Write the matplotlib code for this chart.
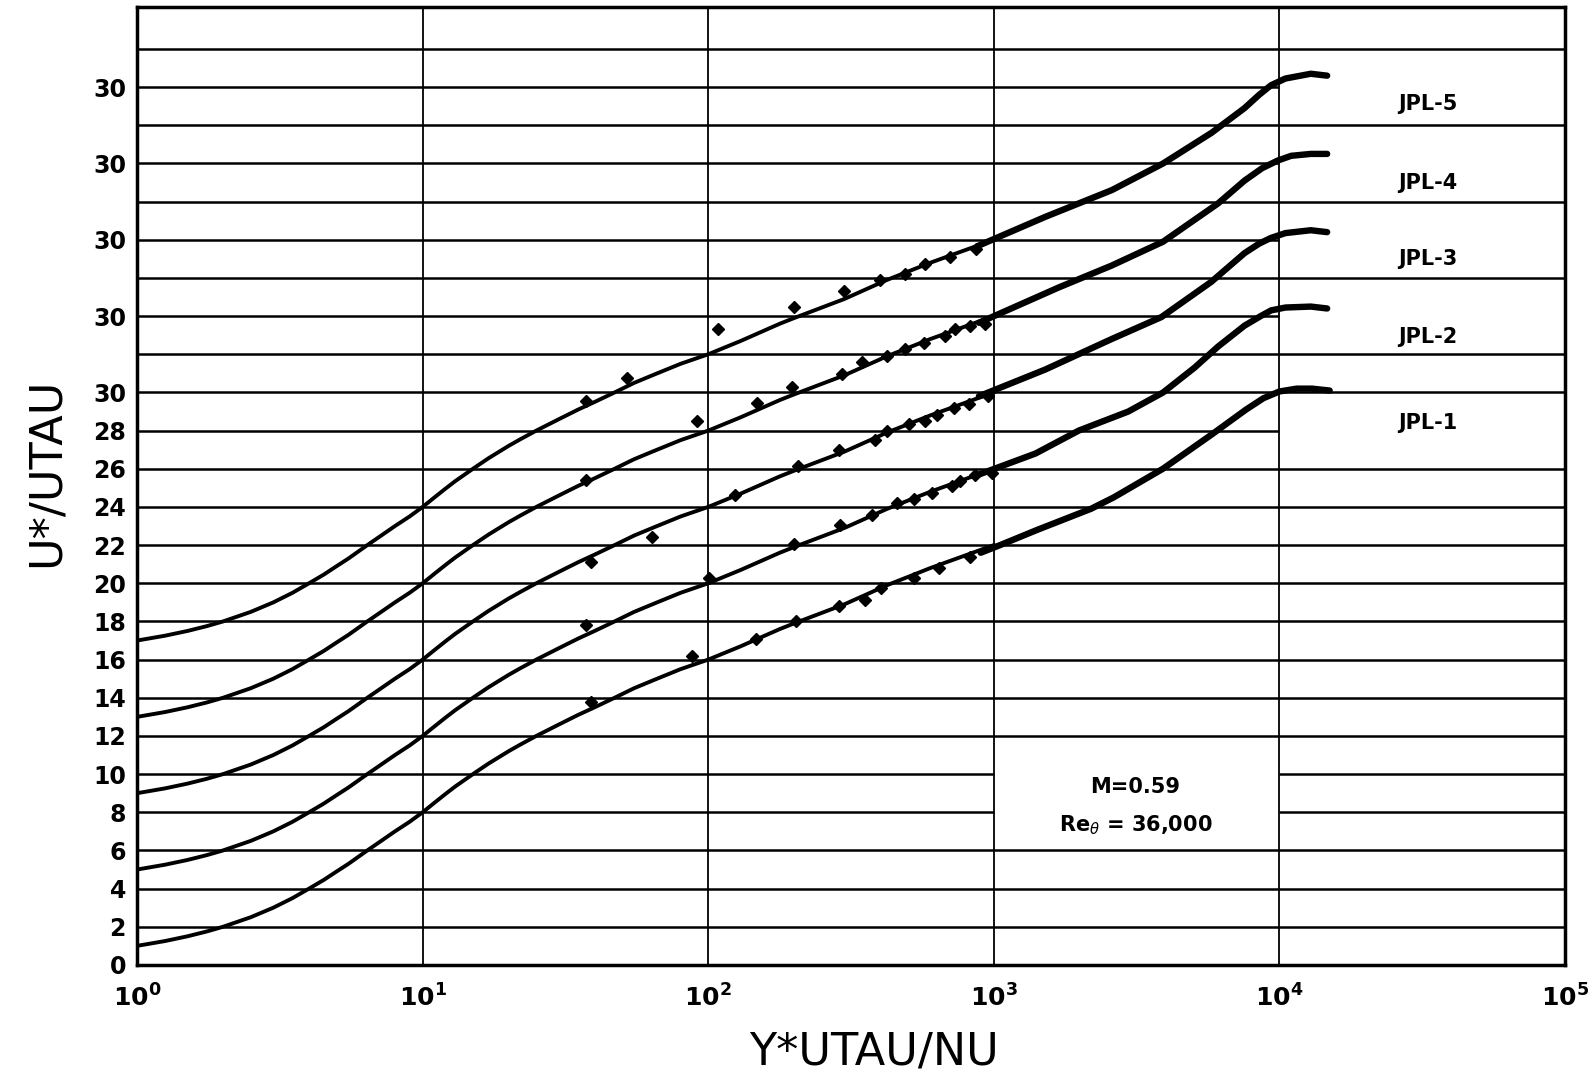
import matplotlib
matplotlib.use('Agg')
import matplotlib.pyplot as plt
from matplotlib.ticker import NullLocator

# curva teorica (sub-camada + lei log) lida para o JPL-1; os outros sao deslocados
TEORIA_YPLUS = [1, 1.25, 1.5, 1.75, 2, 2.5, 3, 3.5, 4, 4.5, 5, 5.5, 6.4, 7, 8, 9, 10, 11, 12, 13,
                15, 17, 20, 22, 25, 30, 35, 40, 47, 55, 65, 80, 100, 130, 178, 200, 300, 423, 600, 1000]
TEORIA_UPLUS = [1.0, 1.25, 1.5, 1.75, 2.0, 2.5, 3.0, 3.5, 4.0, 4.45, 4.9, 5.3, 6.0, 6.4, 7.0, 7.5,
                8.0, 8.5, 8.95, 9.35, 10.0, 10.55, 11.2, 11.55, 12.0, 12.6, 13.1, 13.5, 14.0, 14.5,
                14.95, 15.5, 16.0, 16.7, 17.6, 17.9, 18.9, 19.9, 20.8, 22.0]
DESLOCAMENTOS = [0, 4, 8, 12, 16]

NOMES = ['JPL-1', 'JPL-2', 'JPL-3', 'JPL-4', 'JPL-5']
POS_NOMES = [28.4, 32.9, 37.0, 41.0, 45.1]

# regiao externa (dados densos)
EXT_X = [
    [900, 1052, 1420, 2188, 2630, 3910, 5800, 7640, 8800, 10000, 11500, 13000, 15000],
    [887, 1400, 1983, 2958, 3917, 5047, 6095, 7551, 8600, 9354, 10500, 12882, 14700],
    [887, 1514, 2588, 3864, 5781, 7551, 8500, 9354, 10500, 12882, 14700],
    [887, 1687, 2588, 3917, 6095, 7551, 8700, 9863, 11000, 12882, 14700],
    [887, 1514, 2588, 3917, 5781, 7551, 8500, 9354, 10500, 12882, 14700],
]
EXT_U = [
    [21.6, 22.0, 22.8, 23.9, 24.5, 26.0, 27.8, 29.1, 29.7, 30.05, 30.2, 30.2, 30.1],
    [25.7, 26.8, 28.0, 29.0, 30.0, 31.3, 32.4, 33.5, 34.0, 34.3, 34.45, 34.5, 34.4],
    [29.8, 31.2, 32.8, 33.95, 35.8, 37.3, 37.8, 38.1, 38.35, 38.5, 38.4],
    [33.65, 35.5, 36.65, 37.9, 39.9, 41.1, 41.75, 42.15, 42.4, 42.5, 42.5],
    [37.7, 39.2, 40.6, 42.0, 43.6, 44.9, 45.6, 46.1, 46.45, 46.7, 46.6],
]

# pontos experimentais isolados
PONTOS_X = [
    [39, 88, 147, 203, 286, 354, 404, 525, 643, 824],
    [37.4, 101, 200, 290, 374, 457, 524, 607, 713, 763, 861, 984],
    [39, 63.4, 124, 207, 286, 385, 422, 504, 576, 634, 725, 817, 955],
    [37.4, 91, 148, 196, 293, 345, 422, 490, 568, 677, 733, 828, 933],
    [37.4, 52, 108, 199, 298, 400, 490, 575, 705, 863],
]
PONTOS_U = [
    [13.8, 16.2, 17.1, 18.0, 18.8, 19.1, 19.76, 20.3, 20.8, 21.4],
    [17.8, 20.3, 22.06, 23.04, 23.6, 24.2, 24.4, 24.75, 25.1, 25.36, 25.65, 25.8],
    [21.1, 22.4, 24.63, 26.17, 27.0, 27.5, 28.0, 28.35, 28.5, 28.8, 29.2, 29.4, 29.8],
    [25.4, 28.5, 29.44, 30.3, 30.96, 31.6, 31.9, 32.26, 32.6, 32.96, 33.3, 33.5, 33.6],
    [29.55, 30.75, 33.34, 34.5, 35.3, 35.9, 36.2, 36.75, 37.1, 37.5],
]

YTICKS = [0, 2, 4, 6, 8, 10, 12, 14, 16, 18, 20, 22, 24, 26, 28, 30, 34, 38, 42, 46]
YTICK_LABELS = [str(v) if v <= 28 else '30' for v in YTICKS]
XTICKS = [1, 10, 100, 1000, 10000, 100000]
XTICK_LABELS = [r'$\mathbf{10^{%d}}$' % k for k in range(6)]

NIVEIS_ESQ = list(range(2, 50, 2))
NIVEIS_DIR = list(range(2, 28, 2)) + [30, 32, 36, 40, 44, 48]
NIVEIS_CAIXA = [8, 10]


def desenhar_grade(ax):
    for nivel in NIVEIS_ESQ:
        fim = 1000 if nivel in NIVEIS_CAIXA else 10000
        ax.hlines(nivel, 1, fim, color='black', lw=1.8, zorder=1)
    for nivel in NIVEIS_DIR:
        ax.hlines(nivel, 10000, 100000, color='black', lw=1.8, zorder=1)
    ax.vlines([10, 100, 1000, 10000], 0, 50.2, color='black', lw=1.3, zorder=1)


def main():
    fig = plt.figure(figsize=(15.92, 10.88), dpi=100)
    ax = fig.add_axes([0.0861, 0.1131, 0.8969, 0.8805])
    ax.set_xscale('log')
    ax.set_xlim(1, 1e5)
    ax.set_ylim(0, 50.2)

    desenhar_grade(ax)

    for i, desloc in enumerate(DESLOCAMENTOS):
        ax.plot(TEORIA_YPLUS, [u + desloc for u in TEORIA_UPLUS],
                color='black', lw=2.8, solid_joinstyle='round', zorder=3)
        ax.plot(EXT_X[i], EXT_U[i], color='black', lw=4.6,
                solid_capstyle='round', solid_joinstyle='round', zorder=3)
        ax.plot(PONTOS_X[i], PONTOS_U[i], linestyle='none', marker='D',
                markersize=6.5, color='black', zorder=4)
        ax.text(3.3e4, POS_NOMES[i], NOMES[i], ha='center', va='center',
                fontsize=15, fontweight='bold')

    ax.text(3120, 9.3, 'M=0.59', ha='center', va='center', fontsize=15, fontweight='bold')
    ax.text(3150, 7.3, r'Re$_\theta$ = 36,000', ha='center', va='center',
            fontsize=15, fontweight='bold')

    ax.set_yticks(YTICKS)
    ax.set_yticklabels(YTICK_LABELS, fontsize=17, fontweight='bold')
    ax.set_xticks(XTICKS)
    ax.set_xticklabels(XTICK_LABELS, fontsize=18)
    ax.xaxis.set_minor_locator(NullLocator())
    ax.tick_params(axis='both', length=0)
    ax.tick_params(axis='y', pad=8)
    ax.tick_params(axis='x', pad=14)

    for spine in ax.spines.values():
        spine.set_linewidth(2.5)

    fig.text(0.029, 0.566, 'U*/UTAU', rotation=90, ha='center', va='center', fontsize=32)
    fig.text(0.549, 0.033, 'Y*UTAU/NU', ha='center', va='center', fontsize=32)

    fig.savefig('out.png', dpi=100)


if __name__ == '__main__':
    main()
